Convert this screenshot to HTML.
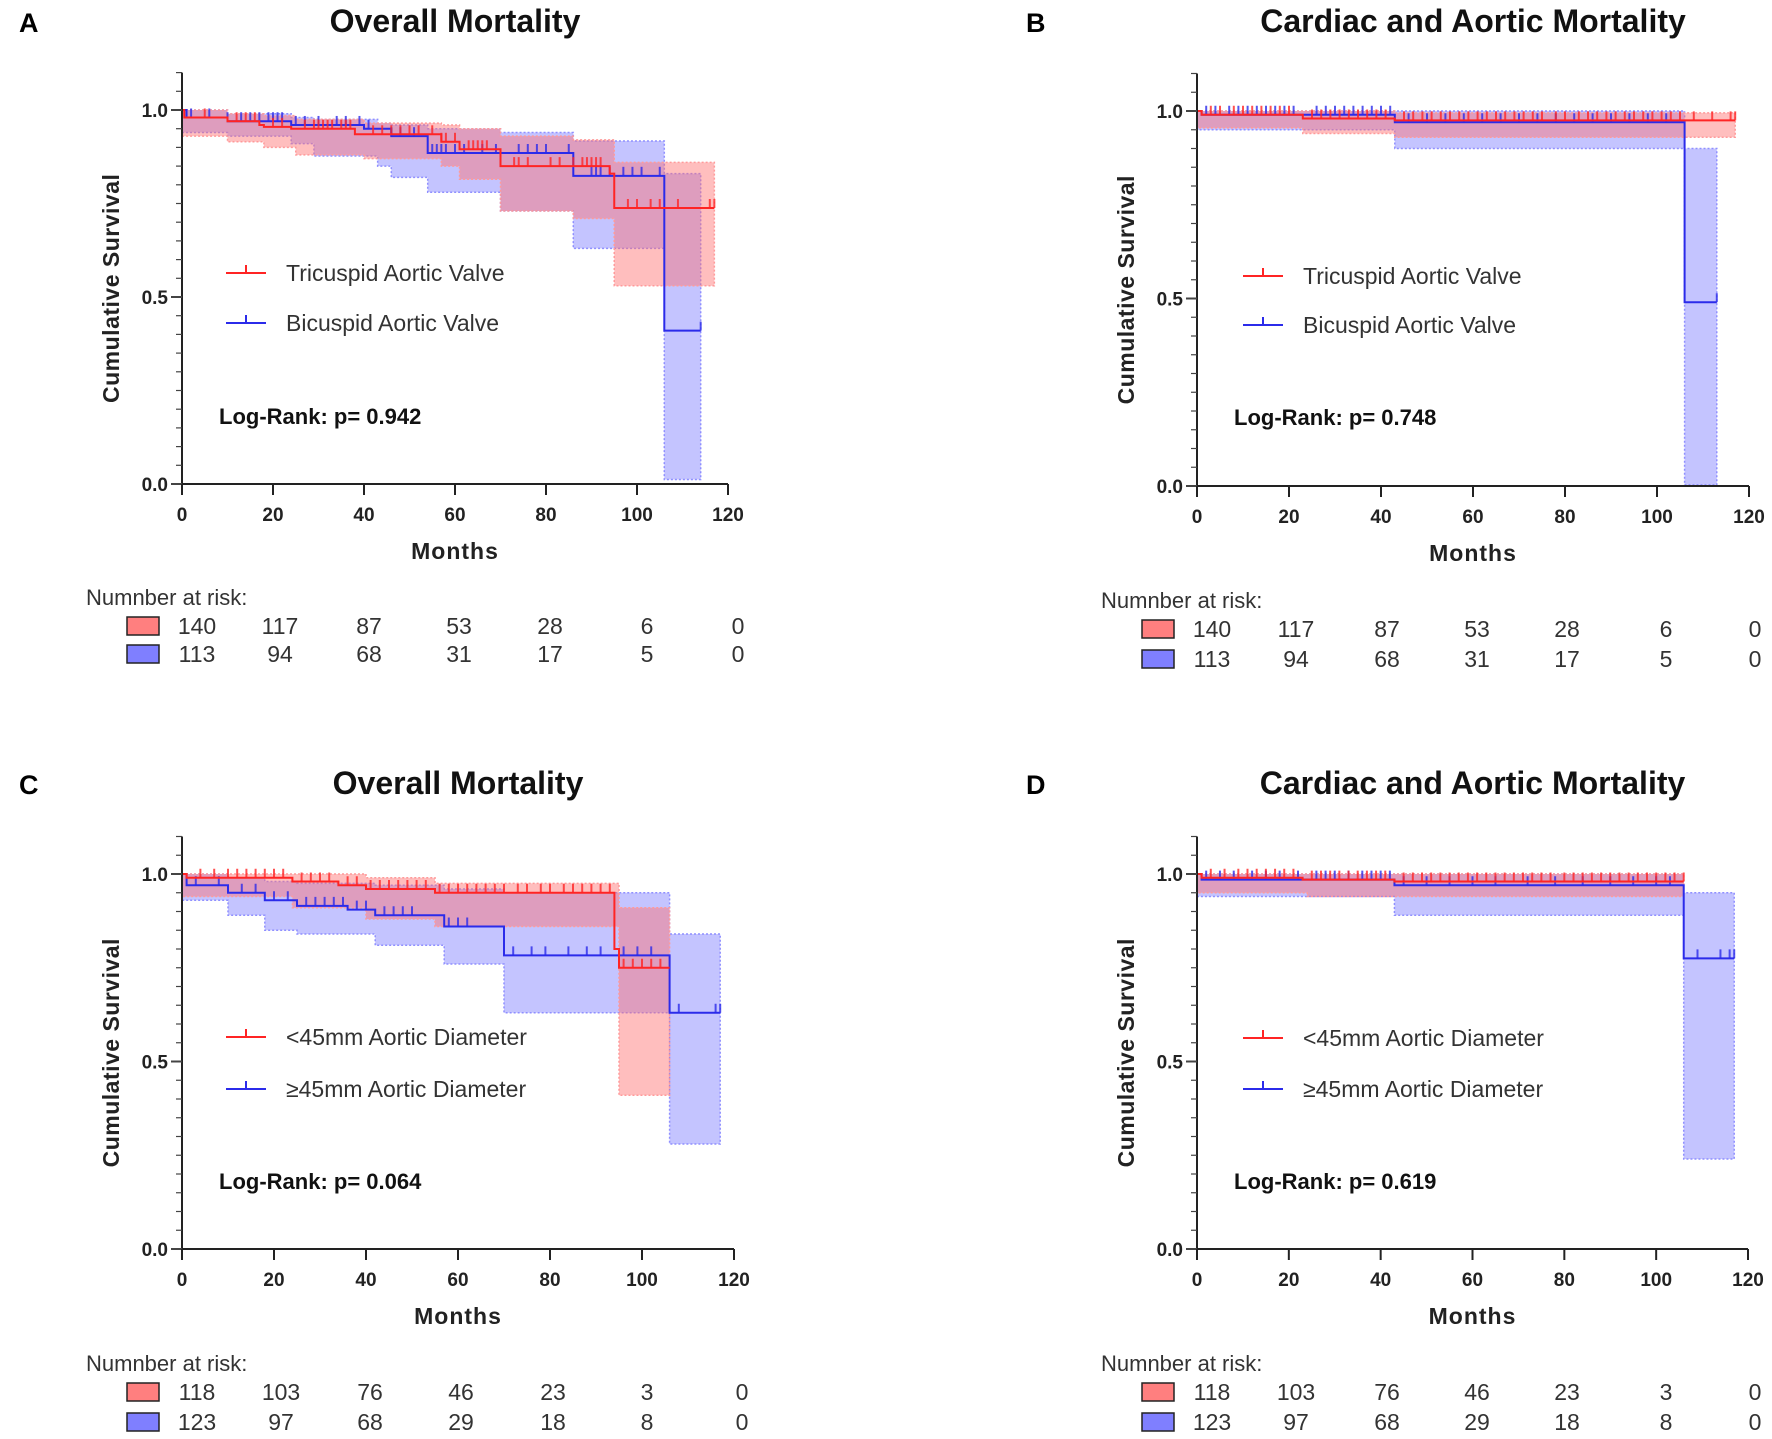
<!DOCTYPE html>
<html><head><meta charset="utf-8"><style>
html,body{margin:0;padding:0;background:#fff;}
svg{display:block;font-family:"Liberation Sans",sans-serif;}
</style></head><body>
<svg id="fig" width="1772" height="1439" viewBox="0 0 1772 1439"></svg>
<script>
// ---------- Panel A data ----------
const aRedT=[0,0.5,10,17,18,24,38,57,61,70,94,95,117];
const aRedS=[1,0.98,0.97,0.96,0.955,0.95,0.935,0.915,0.895,0.85,0.83,0.738];
const aRedBandT=[0,10,18,25,40,57,61,70,86,95,117];
const aRedLo=[0.93,0.915,0.9,0.88,0.87,0.85,0.815,0.73,0.71,0.53];
const aRedHi=[1,0.99,0.985,0.975,0.965,0.96,0.95,0.93,0.92,0.86];
const aRedCens=[5,12,14,16,20,22,27,29,30,31,32,33,35,36,37,42,44,46,48,50,52,55,57,58,60,63,64,65,66,67,73,74,76,81,83,86,88,89,90,91,92,98,100,103,105,109,116,117];
const aBlueT=[0,1,10,24,40,46,54,86,106,114];
const aBlueS=[1,0.98,0.97,0.96,0.95,0.93,0.885,0.824,0.41];
const aBlueBandT=[0,10,24,29,43,46,54,70,86,106,114];
const aBlueLo=[0.94,0.93,0.91,0.877,0.85,0.82,0.78,0.73,0.63,0.012];
const aBlueHi=[1,0.99,0.98,0.975,0.965,0.96,0.95,0.94,0.917,0.83];
const aBlueCens=[2,6,10,13,15,17,19,20,21,22,25,27,30,34,36,39,41,46,48,51,55,56,57,58,60,62,66,69,74,76,78,80,85,90,91,92,94,97,99,101,105,114];
const aRiskRed=["140","117","87","53","28","6","0"];
const aRiskBlue=["113","94","68","31","17","5","0"];
// ---------- Panel B data ----------
const bRedT=[0,1,23,43,117];
const bRedS=[1,0.99,0.98,0.975];
const bRedBandT=[0,23,43,117];
const bRedLo=[0.955,0.94,0.93];
const bRedHi=[1,1,0.995];
const bRedCens=[3,5,8,10,12,14,16,18,20,25,27,29,31,33,35,37,39,41,45,47,49,51,53,55,57,59,61,63,65,67,69,71,73,75,78,80,83,85,87,89,91,93,95,97,99,101,103,105,108,112,116,117];
const bBlueT=[0,1,43,106,113];
const bBlueS=[1,0.99,0.97,0.49];
const bBlueBandT=[0,43,106,113];
const bBlueLo=[0.95,0.9,0.003];
const bBlueHi=[1,1,0.9];
const bBlueCens=[2,4,7,9,11,13,15,17,19,21,26,28,30,32,34,36,38,40,42,46,50,54,58,62,66,70,74,78,82,86,90,94,98,102,113];
const bRiskRed=["140","117","87","53","28","6","0"];
const bRiskBlue=["113","94","68","31","17","5","0"];
// ---------- Panel C data ----------
const cRedT=[0,1,24,34,40,55,94,95,106];
const cRedS=[1,0.99,0.98,0.97,0.96,0.95,0.8,0.75];
const cRedBandT=[0,24,40,55,95,106];
const cRedLo=[0.94,0.91,0.88,0.86,0.41];
const cRedHi=[1,1,0.99,0.975,0.91];
const cRedCens=[4,7,10,12,14,16,18,20,22,26,28,30,32,36,38,41,43,45,47,49,51,53,56,58,60,62,64,66,68,70,73,75,78,80,83,85,87,89,91,93,96,98,100,102,104];
const cBlueT=[0,1,10,18,25,36,42,57,70,106,117];
const cBlueS=[1,0.97,0.95,0.93,0.915,0.905,0.89,0.86,0.783,0.63];
const cBlueBandT=[0,10,18,25,42,57,70,106,117];
const cBlueLo=[0.93,0.89,0.85,0.84,0.81,0.76,0.63,0.28];
const cBlueHi=[1,0.99,0.98,0.975,0.97,0.96,0.95,0.84];
const cBlueCens=[3,8,13,16,20,23,27,29,31,33,35,38,40,44,46,48,50,58,60,62,72,76,79,84,88,91,96,99,102,108,116,117];
const cRiskRed=["118","103","76","46","23","3","0"];
const cRiskBlue=["123","97","68","29","18","8","0"];
// ---------- Panel D data ----------
const dRedT=[0,1,23,43,106];
const dRedS=[1,0.99,0.985,0.98];
const dRedBandT=[0,24,106];
const dRedLo=[0.95,0.94];
const dRedHi=[1,1];
const dRedCens=[3,6,9,11,13,15,17,19,21,25,27,29,31,33,35,37,39,41,45,47,49,51,53,55,57,59,61,63,65,67,69,71,73,75,77,80,82,84,86,88,90,92,94,96,98,100,102,104,106];
const dBlueT=[0,1,43,106,117];
const dBlueS=[1,0.985,0.97,0.775];
const dBlueBandT=[0,43,106,117];
const dBlueLo=[0.94,0.89,0.24];
const dBlueHi=[1,1,0.95];
const dBlueCens=[2,5,8,12,15,18,22,26,28,30,33,36,38,40,42,45,50,55,60,65,72,78,84,90,95,100,103,109,114,116,117];
const dRiskRed=["118","103","76","46","23","3","0"];
const dRiskBlue=["123","97","68","29","18","8","0"];

const xTicks=[0,20,40,60,80,100,120];
const yTickLabels=["0.0","0.5","1.0"];

const NS="http://www.w3.org/2000/svg";
const svg=document.getElementById('fig');
function mk(tag,attrs,parent){const e=document.createElementNS(NS,tag);for(const k in attrs)e.setAttribute(k,attrs[k]);(parent||svg).appendChild(e);return e;}
function txt(s,attrs,parent){const e=mk('text',attrs,parent);e.textContent=s;return e;}

const RED="#ff2424",BLUE="#2b2bea";
const panels=[
 {key:'a',letter:'A',title:'Overall Mortality',x0:182,x1:728,y1:110,y0:484,lx:19,ty:32,
  leg:['Tricuspid Aortic Valve','Bicuspid Aortic Valve'],legX:226,legY:[273,323],p:'0.942',lrX:219,lrY:424,
  riskHdr:[86,605],riskY:[626,654],riskX:[197,280,369,459,550,647,738],swX:127,
  red:[aRedT,aRedS,aRedBandT,aRedLo,aRedHi,aRedCens],blue:[aBlueT,aBlueS,aBlueBandT,aBlueLo,aBlueHi,aBlueCens],risk:[aRiskRed,aRiskBlue]},
 {key:'b',letter:'B',title:'Cardiac and Aortic Mortality',x0:1197,x1:1749,y1:111,y0:486,lx:1026,ty:32,
  leg:['Tricuspid Aortic Valve','Bicuspid Aortic Valve'],legX:1243,legY:[276,325],p:'0.748',lrX:1234,lrY:425,
  riskHdr:[1101,608],riskY:[629,659],riskX:[1212,1296,1387,1477,1567,1666,1755],swX:1142,
  red:[bRedT,bRedS,bRedBandT,bRedLo,bRedHi,bRedCens],blue:[bBlueT,bBlueS,bBlueBandT,bBlueLo,bBlueHi,bBlueCens],risk:[bRiskRed,bRiskBlue]},
 {key:'c',letter:'C',title:'Overall Mortality',x0:182,x1:734,y1:874,y0:1249,lx:19,ty:794,
  leg:['<45mm Aortic Diameter','\u226545mm Aortic Diameter'],legX:226,legY:[1037,1089],p:'0.064',lrX:219,lrY:1189,
  riskHdr:[86,1371],riskY:[1392,1422],riskX:[197,281,370,461,553,647,742],swX:127,
  red:[cRedT,cRedS,cRedBandT,cRedLo,cRedHi,cRedCens],blue:[cBlueT,cBlueS,cBlueBandT,cBlueLo,cBlueHi,cBlueCens],risk:[cRiskRed,cRiskBlue]},
 {key:'d',letter:'D',title:'Cardiac and Aortic Mortality',x0:1197,x1:1748,y1:874,y0:1249,lx:1026,ty:794,
  leg:['<45mm Aortic Diameter','\u226545mm Aortic Diameter'],legX:1243,legY:[1038,1089],p:'0.619',lrX:1234,lrY:1189,
  riskHdr:[1101,1371],riskY:[1392,1422],riskX:[1212,1296,1387,1477,1567,1666,1755],swX:1142,
  red:[dRedT,dRedS,dRedBandT,dRedLo,dRedHi,dRedCens],blue:[dBlueT,dBlueS,dBlueBandT,dBlueLo,dBlueHi,dBlueCens],risk:[dRiskRed,dRiskBlue]}
];

function stepPath(T,S,X,Y){let d='M'+X(T[0])+','+Y(S[0]);for(let i=0;i<S.length;i++){d+=' L'+X(T[i+1])+','+Y(S[i]);if(i+1<S.length)d+=' L'+X(T[i+1])+','+Y(S[i+1]);}return d;}
function bandPath(T,Lo,Hi,X,Y){let d='M'+X(T[0])+','+Y(Hi[0]);for(let i=0;i<Hi.length;i++){d+=' L'+X(T[i+1])+','+Y(Hi[i]);if(i+1<Hi.length)d+=' L'+X(T[i+1])+','+Y(Hi[i+1]);}
 for(let i=Lo.length-1;i>=0;i--){d+=' L'+X(T[i+1])+','+Y(Lo[i]);d+=' L'+X(T[i])+','+Y(Lo[i]);}return d+'Z';}
function sAt(T,S,t){let v=S[0];for(let i=0;i<S.length;i++){if(t>=T[i])v=S[i];}return v;}

panels.forEach(P=>{
 const g=mk('g',{});
 
 
 const X=t=>P.x0+(P.x1-P.x0)*t/120;
 const Y=v=>P.y0-(P.y0-P.y1)*v;
 const cx=(P.x0+P.x1)/2;
 const lt=txt(P.letter,{x:P.lx,y:P.ty,'font-size':27,'font-weight':'bold',fill:'#000'},g);
 
 
 const tt=txt(P.title,{x:cx,y:P.ty,'font-size':32,'font-weight':'bold','text-anchor':'middle',fill:'#111'},g);
 
 
 [['blue',P.blue,'rgba(115,115,255,0.42)','#8f8fff'],['red',P.red,'rgba(255,110,110,0.45)','#ff9a9a']].forEach(([nm,D,fill,st])=>{
  const b=mk('path',{d:bandPath(D[2],D[3],D[4],X,Y),fill:fill,stroke:st,'stroke-width':1.5,'stroke-dasharray':'2,2'},g);
  
  
 });
 [['blue',P.blue,BLUE],['red',P.red,RED]].forEach(([nm,D,col])=>{
  const l=mk('path',{d:stepPath(D[0],D[1],X,Y),fill:'none',stroke:col,'stroke-width':2},g);
  
  
  D[5].forEach(t=>{
   const v=sAt(D[0],D[1],t);
   const c=mk('line',{x1:X(t),x2:X(t),y1:Y(v),y2:Y(v)-9,stroke:col,'stroke-width':2,'stroke-opacity':0.8},g);
   
   
  });
 });
 const ya=mk('line',{x1:P.x0,x2:P.x0,y1:Y(1.1),y2:P.y0,stroke:'#222','stroke-width':2},g);
 
 
 const xa=mk('line',{x1:P.x0,x2:P.x1,y1:P.y0,y2:P.y0,stroke:'#222','stroke-width':2},g);
 
 
 for(let k=0;k<=22;k++){const v=k*0.05;const major=(k%10===0);
  const tk=mk('line',{x1:P.x0-(major?11:6),x2:P.x0,y1:Y(v),y2:Y(v),stroke:'#444','stroke-width':major?2:1.2},g);
  
  
 }
 yTickLabels.forEach((s,i)=>{
  const e=txt(s,{x:P.x0-14,y:Y(i*0.5)+7,'font-size':19,'font-weight':'bold','text-anchor':'end',fill:'#222'},g);
  
  
 });
 xTicks.forEach(t=>{
  const tk=mk('line',{x1:X(t),x2:X(t),y1:P.y0,y2:P.y0+11,stroke:'#222','stroke-width':2},g);
  
  
  const e=txt(String(t),{x:X(t),y:P.y0+37,'font-size':19,'font-weight':'bold','text-anchor':'middle',fill:'#222'},g);
  
  
 });
 const xt=txt('Months',{x:cx,y:P.y0+75,'font-size':23,'font-weight':'bold','text-anchor':'middle',fill:'#222','letter-spacing':'1'},g);
 
 
 const ymid=(Y(1.1)+P.y0)/2+10;
 const yt=txt('Cumulative Survival',{x:0,y:0,'font-size':23,'font-weight':'bold','text-anchor':'middle',fill:'#222','letter-spacing':'0.5',transform:'translate('+(P.x0-63)+','+ymid+') rotate(-90)'},g);
 
 
 [[RED,P.leg[0]],[BLUE,P.leg[1]]].forEach(([col,lab],i)=>{
  const y=P.legY[i];
  const lg=mk('g',{},g);
  
  
  mk('line',{x1:P.legX,x2:P.legX+40,y1:y,y2:y,stroke:col,'stroke-width':2},lg);
  mk('line',{x1:P.legX+20,x2:P.legX+20,y1:y,y2:y-8,stroke:col,'stroke-width':2},lg);
  txt(lab,{x:P.legX+60,y:y+8,'font-size':23,fill:'#333'},lg);
 });
 const lr=txt('Log-Rank: p= '+P.p,{x:P.lrX,y:P.lrY,'font-size':22,'font-weight':'bold',fill:'#111'},g);
 
 
 const rh=txt('Numnber at risk:',{x:P.riskHdr[0],y:P.riskHdr[1],'font-size':22,fill:'#333'},g);
 
 
 [['#ff7f7f',P.risk[0]],['#7f7fff',P.risk[1]]].forEach(([fc,vals],r)=>{
  const y=P.riskY[r];
  const sw=mk('rect',{x:P.swX,y:y-9,width:32,height:18,fill:fc,stroke:'#222','stroke-width':1.5},g);
  
  
  vals.forEach((v,i)=>{
   const e=txt(v,{x:P.riskX[i],y:y+8,'font-size':23,'text-anchor':'middle',fill:'#333'},g);
   
   
  });
 });
});
</script>
</body></html>
